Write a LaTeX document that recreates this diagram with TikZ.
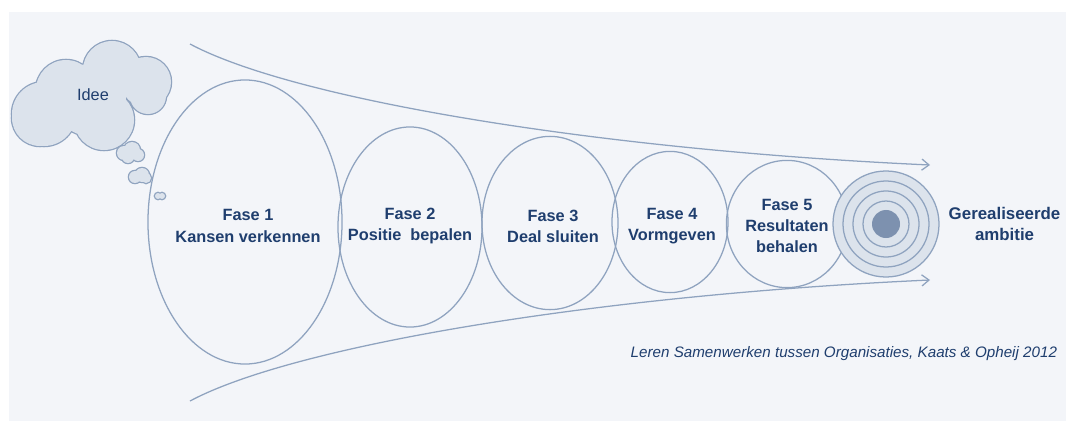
\documentclass[tikz,border=0pt]{standalone}
\usepackage{fontspec}
\setmainfont{Liberation Sans}
\usepackage{tikz}
\usetikzlibrary{arrows.meta,positioning,shapes.geometric}
\definecolor{paper}{HTML}{F3F5F9}
\definecolor{lijnblauw}{HTML}{8FA3BF}
\definecolor{wolkvul}{HTML}{DCE3EC}
\definecolor{tekstblauw}{HTML}{1F3E6E}
\definecolor{kernblauw}{HTML}{7D91AF}
\tikzset{
    funnel/.style={draw=lijnblauw, line width=0.9pt},
    fase/.style={ellipse, funnel, inner sep=0pt},
    fasetekst/.style={align=center, inner sep=0pt, text=tekstblauw,
        font=\fontsize{11.6}{15}\selectfont\bfseries},
}
% cloud = union of circles: thick outline first, then the fill on top
\newcommand{\wolk}[1]{
    \draw[lijnblauw, line width=1.8pt] #1;
    \fill[wolkvul] #1;
}

\begin{document}
\begin{tikzpicture}[x=0.025cm, y=-0.025cm, node distance=0.25cm, >={Straight Barb[length=1.8mm,width=2.8mm]}]
    \useasboundingbox (0,0) rectangle (1066,421);
    \fill[paper] (9,12) rectangle (1066,421);

    % idea cloud and its trail
    \wolk{(44,114) circle[radius=32] (66,90) circle[radius=30] (112,70) circle[radius=29]
          (146,82) circle[radius=25] (148,96) circle[radius=18] (104,120) circle[radius=30]
          (90,100) circle[radius=36] (40,118) circle[radius=28]}
    \wolk{(124,153) circle[radius=7] (132,150) circle[radius=8] (138,155) circle[radius=6] (128,157) circle[radius=6]}
    \wolk{(135,177) circle[radius=6] (142,175) circle[radius=7] (146,178) circle[radius=5]}
    \wolk{(158,196) circle[radius=3] (162,196) circle[radius=3]}
    \node[text=tekstblauw, font=\fontsize{11.6}{15}\selectfont] (idee) at (93,95) {Idee};

    % phases
    \node[fase, minimum width=4.85cm, minimum height=7.1cm] (fase1) at (245,222) {};
    \node[fase, minimum width=3.6cm, minimum height=5cm] (fase2) at (410,227) {};
    \node[fase, minimum width=3.4cm, minimum height=4.33cm] (fase3) at (550,223) {};
    \node[fase, minimum width=2.9cm, minimum height=3.53cm] (fase4) at (670,222) {};
    \node[fase, minimum width=3.03cm, minimum height=3.18cm] (fase5) at (787,224) {};
    \node[fasetekst] (tekst1) at (248,226) {Fase 1\\Kansen verkennen};
    \node[fasetekst] (tekst2) at (410,226) {Fase 2\\Positie\ \ bepalen};
    \node[fasetekst] (tekst3) at (553,226) {Fase 3\\Deal sluiten};
    \node[fasetekst] (tekst4) at (672,226) {Fase 4\\Vormgeven};
    \node[fasetekst] (tekst5) at (787,226) {Fase 5\\Resultaten\\behalen};

    % funnel
    \coordinate (bovenbegin) at (190,44);
    \coordinate (bovenpijl) at (930,165);
    \coordinate (onderbegin) at (190,401);
    \coordinate (onderpijl) at (930,280);
    \draw[funnel,->] (bovenbegin) .. controls (295,100) and (600,150) .. (bovenpijl);
    \draw[funnel,->] (onderbegin) .. controls (295,345) and (600,295) .. (onderpijl);

    % target
    \node[circle, funnel, fill=wolkvul, minimum size=2.65cm, inner sep=0pt] (doel) at (886,224) {};
    \foreach \r in {43,33,23}
        \draw[funnel] (doel.center) circle[radius=\r*0.025cm];
    \fill[kernblauw] (doel.center) circle[radius=0.35cm];
    \node[fasetekst, right=0.22cm of doel, font=\fontsize{12}{15}\selectfont\bfseries] (ambitie) {Gerealiseerde\\ambitie};

    \node[anchor=east, text=tekstblauw, font=\fontsize{10.8}{12}\selectfont\itshape] (bron) at (1062,354)
        {Leren Samenwerken tussen Organisaties, Kaats \& Opheij 2012};
\end{tikzpicture}
\end{document}
